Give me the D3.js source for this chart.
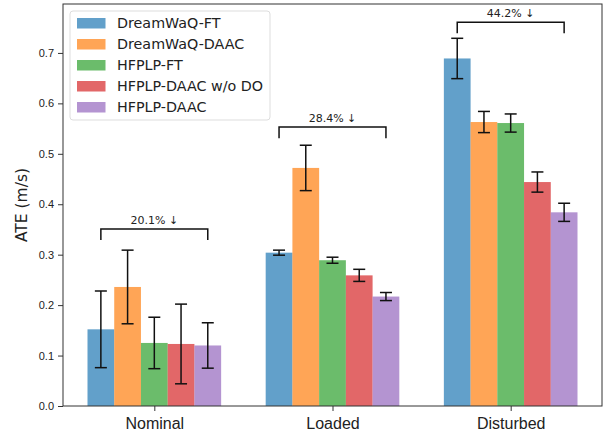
<!DOCTYPE html>
<html>
<head>
<meta charset="utf-8">
<script src="https://cdn.jsdelivr.net/npm/d3@7"></script>
<style>
  body { margin: 0; background: #fff; }
  svg { font-family: "DejaVu Sans", sans-serif; }
</style>
</head>
<body>
<div id="chart"></div>
<script>
// categories and methods
const categories = ["Nominal", "Loaded", "Disturbed"];
const methods = ["DreamWaQ-FT", "DreamWaQ-DAAC", "HFPLP-FT", "HFPLP-DAAC w/o DO", "HFPLP-DAAC"];
const colors = ["#1f77b4", "#ff7f0e", "#2ca02c", "#d62728", "#9467bd"];

// mean ATE per method, one array per category order
const dreamwaqFT   = [0.152, 0.304, 0.689];
const dreamwaqDAAC = [0.236, 0.472, 0.563];
const hfplpFT      = [0.125, 0.289, 0.561];
const hfplpNoDO    = [0.123, 0.259, 0.444];
const hfplpDAAC    = [0.120, 0.217, 0.384];

// std (error bar half length)
const dreamwaqFTErr   = [0.076, 0.005, 0.040];
const dreamwaqDAACErr = [0.073, 0.045, 0.021];
const hfplpFTErr      = [0.051, 0.006, 0.018];
const hfplpNoDOErr    = [0.079, 0.012, 0.020];
const hfplpDAACErr    = [0.045, 0.008, 0.018];

// improvement annotations
const improvements = ["20.1% ↓", "28.4% ↓", "44.2% ↓"];
const bracketLevels = [0.351, 0.553, 0.761];

const yTicks = [0.0, 0.1, 0.2, 0.3, 0.4, 0.5, 0.6, 0.7];

const values = [dreamwaqFT, dreamwaqDAAC, hfplpFT, hfplpNoDO, hfplpDAAC];
const errors = [dreamwaqFTErr, dreamwaqDAACErr, hfplpFTErr, hfplpNoDOErr, hfplpDAACErr];

const width = 604, height = 434;
const area = { left: 63, right: 602, top: 4, bottom: 406 };
const barW = 0.15;

const bars = [];
methods.forEach((m, i) => {
  categories.forEach((c, j) => {
    bars.push({ method: i, cat: j, x: j + (i - 2) * barW, v: values[i][j], e: errors[i][j] });
  });
});

const svg = d3.select("#chart").append("svg")
    .attr("width", width)
    .attr("height", height);

const xScale = d3.scaleLinear()
    .domain([-0.5125, 2.5125])
    .range([area.left, area.right]);

const yScale = d3.scaleLinear()
    .domain([0, 0.797])
    .range([area.bottom, area.top]);

// bars
svg.append("g").selectAll("rect")
    .data(bars)
    .join("rect")
    .attr("x", d => xScale(d.x - barW / 2))
    .attr("width", d => xScale(d.x + barW / 2) - xScale(d.x - barW / 2))
    .attr("y", d => yScale(d.v))
    .attr("height", d => yScale(0) - yScale(d.v))
    .attr("fill", d => colors[d.method])
    .attr("fill-opacity", 0.7);

// error bars
const eb = svg.append("g").attr("stroke", "#111").attr("stroke-width", 1.5);
const cap = 6;
bars.forEach(d => {
  const cx = xScale(d.x);
  eb.append("line").attr("x1", cx).attr("x2", cx)
    .attr("y1", yScale(d.v - d.e)).attr("y2", yScale(d.v + d.e));
  [d.v - d.e, d.v + d.e].forEach(y => {
    eb.append("line").attr("x1", cx - cap).attr("x2", cx + cap)
      .attr("y1", yScale(y)).attr("y2", yScale(y));
  });
});

// brackets
const br = svg.append("g");
categories.forEach((c, j) => {
  const x0 = xScale(j - 2 * barW), x1 = xScale(j + 2 * barW);
  const yb = yScale(bracketLevels[j]), yt = yScale(bracketLevels[j] - 0.022);
  br.append("path")
    .attr("d", `M${x0},${yt}V${yb}H${x1}V${yt}`)
    .attr("fill", "none")
    .attr("stroke", "#111")
    .attr("stroke-width", 1.5);
  br.append("text")
    .attr("x", xScale(j))
    .attr("y", yb - 5)
    .attr("text-anchor", "middle")
    .attr("font-size", 11)
    .attr("fill", "#222")
    .text(improvements[j]);
});

// axes
const xAxis = svg.append("g")
    .attr("transform", `translate(0,${area.bottom})`)
    .call(d3.axisBottom(xScale).tickValues([0, 1, 2]).tickFormat(i => categories[i]).tickSize(5).tickSizeOuter(0));
xAxis.select(".domain").remove();
xAxis.selectAll("text").attr("font-size", 16).attr("dy", "0.95em").attr("fill", "#222");
xAxis.selectAll("line").attr("stroke", "#333");

const yAxis = svg.append("g")
    .attr("transform", `translate(${area.left},0)`)
    .call(d3.axisLeft(yScale).tickValues(yTicks).tickFormat(d3.format(".1f")).tickSize(5).tickSizeOuter(0));
yAxis.select(".domain").remove();
yAxis.selectAll("text").attr("font-size", 11).attr("fill", "#222").attr("x", -9);
yAxis.selectAll("line").attr("stroke", "#333");

// frame
svg.append("rect")
    .attr("x", area.left).attr("y", area.top)
    .attr("width", area.right - area.left).attr("height", area.bottom - area.top)
    .attr("fill", "none").attr("stroke", "#333").attr("stroke-width", 1);

svg.append("text")
    .attr("transform", `translate(22,${(area.top + area.bottom) / 2}) rotate(-90)`)
    .attr("text-anchor", "middle")
    .attr("dy", "0.35em")
    .attr("font-size", 15.5)
    .attr("fill", "#222")
    .text("ATE (m/s)");

// legend
const legend = svg.append("g").attr("transform", "translate(70,11)");
legend.append("rect")
    .attr("width", 200).attr("height", 109).attr("rx", 3)
    .attr("fill", "#fff").attr("fill-opacity", 0.8)
    .attr("stroke", "#ddd");
methods.forEach((m, i) => {
  const g = legend.append("g").attr("transform", `translate(7,${12 + i * 21})`);
  g.append("rect").attr("y", -5).attr("width", 28.5).attr("height", 10.5)
    .attr("fill", colors[i]).attr("fill-opacity", 0.7);
  g.append("text").attr("x", 40).attr("dy", "0.35em")
    .attr("font-size", 14.3).attr("fill", "#222").text(m);
});
</script>
</body>
</html>
